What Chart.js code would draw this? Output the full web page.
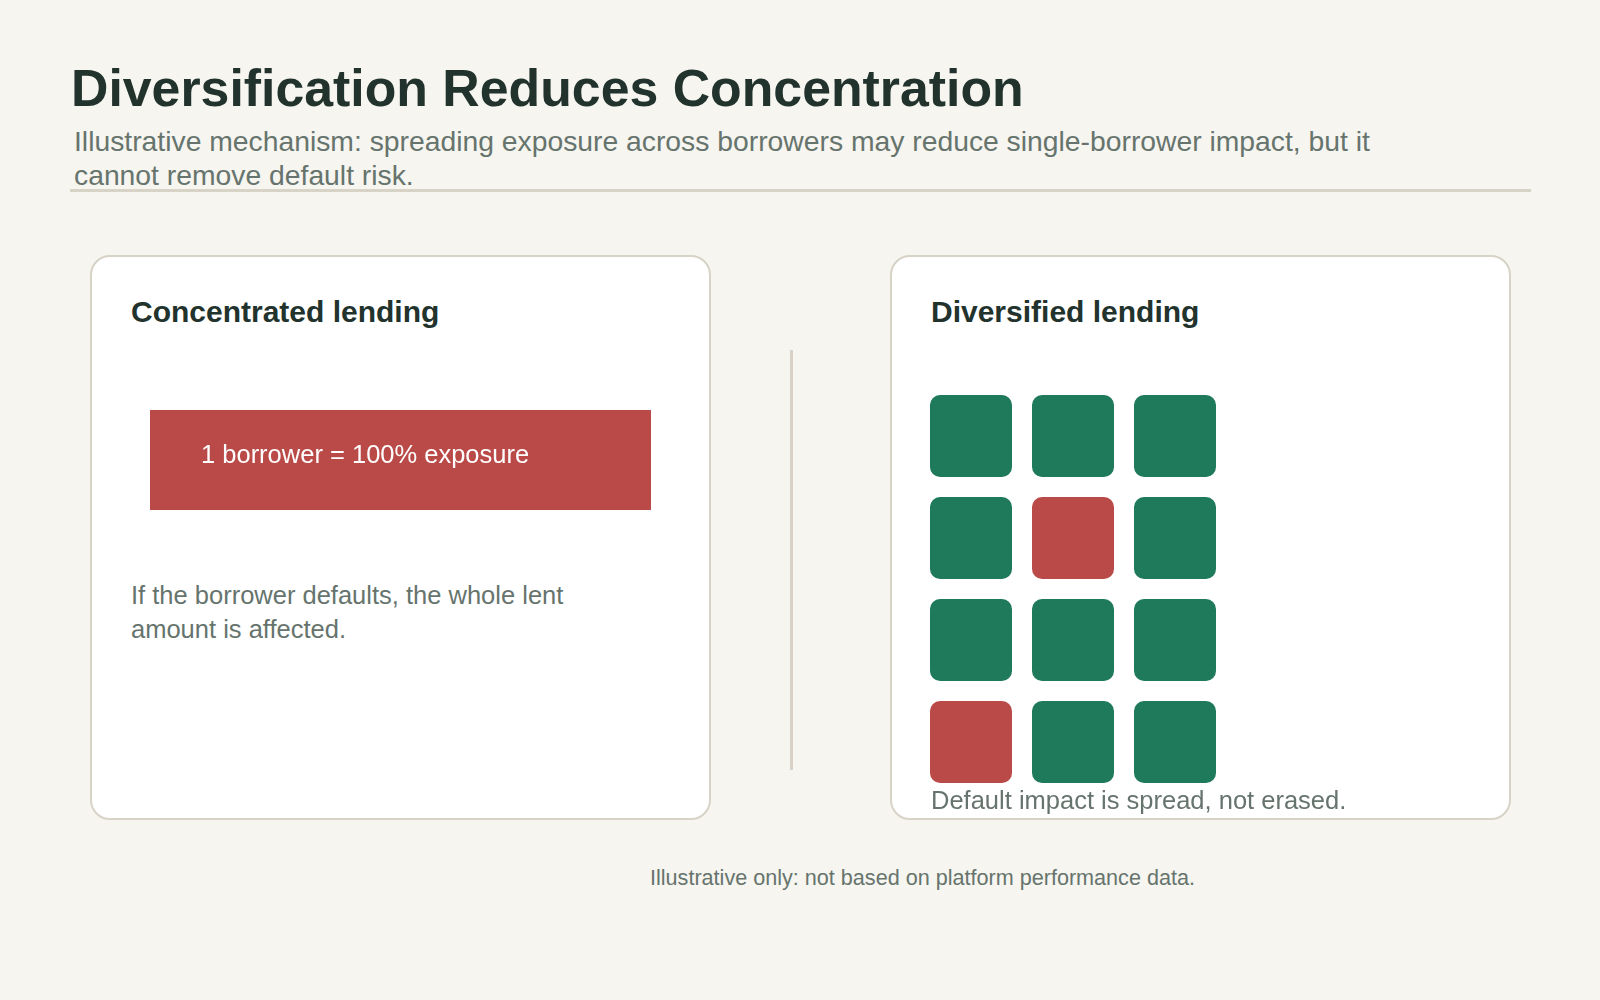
<!DOCTYPE html>
<html>
<head>
<meta charset="utf-8">
<script src="https://cdn.jsdelivr.net/npm/chart.js@4.4.1/dist/chart.umd.min.js"></script>
<style>
  html, body { margin: 0; padding: 0; }
  body {
    width: 1600px; height: 1000px; position: relative; overflow: hidden;
    background: #f6f5f0;
    font-family: "Liberation Sans", Arial, sans-serif;
  }
  .abs { position: absolute; white-space: nowrap; }
  #title { left: 71px; top: 62px; font-size: 51.8px; line-height: 52px; font-weight: bold; color: #22322d; }
  #subtitle { left: 74px; top: 125px; width: 1360px; font-size: 28.3px; line-height: 33.5px; color: #66746d; white-space: normal; }
  #rule { left: 70px; top: 189px; width: 1461px; height: 3px; background: #d8d3c7; }
  .card { position: absolute; top: 255px; width: 617px; height: 561px; background: #fff; border: 2px solid #d8d3c7; border-radius: 20px; }
  #cardL { left: 90px; }
  #cardR { left: 890px; }
  #divider { left: 790px; top: 350px; width: 3px; height: 420px; background: #dad1c6; }
  .cardTitle { font-size: 30px; line-height: 30px; font-weight: bold; color: #22322d; top: 297px; }
  .note { font-size: 25.5px; line-height: 34px; color: #66746d; }
  #barBox { left: 150px; top: 410px; width: 501px; height: 100px; }
  #barText { left: 201px; top: 442px; font-size: 25.5px; line-height: 25.5px; color: #fff; }
  #gridBox { left: 920px; top: 385px; width: 306px; height: 408px; }
  #footer { left: 650px; top: 867px; font-size: 21.6px; line-height: 21.6px; color: #66746d; }
</style>
</head>
<body>
<div class="abs" id="title">Diversification Reduces Concentration</div>
<div class="abs" id="subtitle">Illustrative mechanism: spreading exposure across borrowers may reduce single-borrower impact, but it cannot remove default risk.</div>
<div class="abs" id="rule"></div>

<div class="card" id="cardL"></div>
<div class="card" id="cardR"></div>
<div class="abs" id="divider"></div>

<div class="abs cardTitle" style="left:131px">Concentrated lending</div>
<div class="abs cardTitle" style="left:931px">Diversified lending</div>

<div class="abs" id="barBox"><canvas id="barChart"></canvas></div>
<div class="abs" id="barText">1 borrower = 100% exposure</div>
<div class="abs note" style="left:131px; top:578px">If the borrower defaults, the whole lent<br>amount is affected.</div>

<div class="abs" id="gridBox"><canvas id="gridChart"></canvas></div>
<div class="abs note" style="left:931px; top:783px">Default impact is spread, not erased.</div>

<div class="abs" id="footer">Illustrative only: not based on platform performance data.</div>

<script>
// concentrated side: one borrower holds the whole exposure
const concentratedLabels = ["1 borrower"];
const concentratedShare = [100];

// diversified side: 3 columns x 4 rows of borrowers, 1 = defaulted
const gridColumns = ["c1", "c2", "c3"];
const gridRows = ["r1", "r2", "r3", "r4"];
const row1 = [0, 0, 0];
const row2 = [0, 1, 0];
const row3 = [0, 0, 0];
const row4 = [1, 0, 0];
const gridStatus = [row1, row2, row3, row4];

const RED = "#b94a48";
const GREEN = "#1f7a5c";

window.onload = function () {

new Chart(document.getElementById("barChart"), {
  type: "bar",
  data: {
    labels: concentratedLabels,
    datasets: [{
      data: concentratedShare,
      backgroundColor: RED,
      borderWidth: 0,
      categoryPercentage: 1,
      barPercentage: 1
    }]
  },
  options: {
    indexAxis: "y",
    responsive: true,
    maintainAspectRatio: false,
    animation: false,
    layout: { padding: 0 },
    plugins: { legend: { display: false }, tooltip: { enabled: false } },
    scales: {
      x: { display: false, min: 0, max: 100 },
      y: { display: false }
    }
  }
});

// each row is a dataset of floating bars; gap between cells is ~20% of a slot
const cellGap = 0.098;
const gridDatasets = gridRows.map(function (name, r) {
  return {
    label: name,
    data: gridStatus[r].map(function () { return [r + cellGap, r + 1 - cellGap]; }),
    backgroundColor: gridStatus[r].map(function (s) { return s ? RED : GREEN; }),
    borderWidth: 0,
    borderRadius: 10,
    borderSkipped: false,
    grouped: false,
    categoryPercentage: 1,
    barPercentage: 0.804
  };
});

new Chart(document.getElementById("gridChart"), {
  type: "bar",
  data: { labels: gridColumns, datasets: gridDatasets },
  options: {
    responsive: true,
    maintainAspectRatio: false,
    animation: false,
    layout: { padding: 0 },
    plugins: { legend: { display: false }, tooltip: { enabled: false } },
    scales: {
      x: { display: false },
      y: { display: false, min: 0, max: 4, reverse: true }
    }
  }
});

};
</script>
</body>
</html>
